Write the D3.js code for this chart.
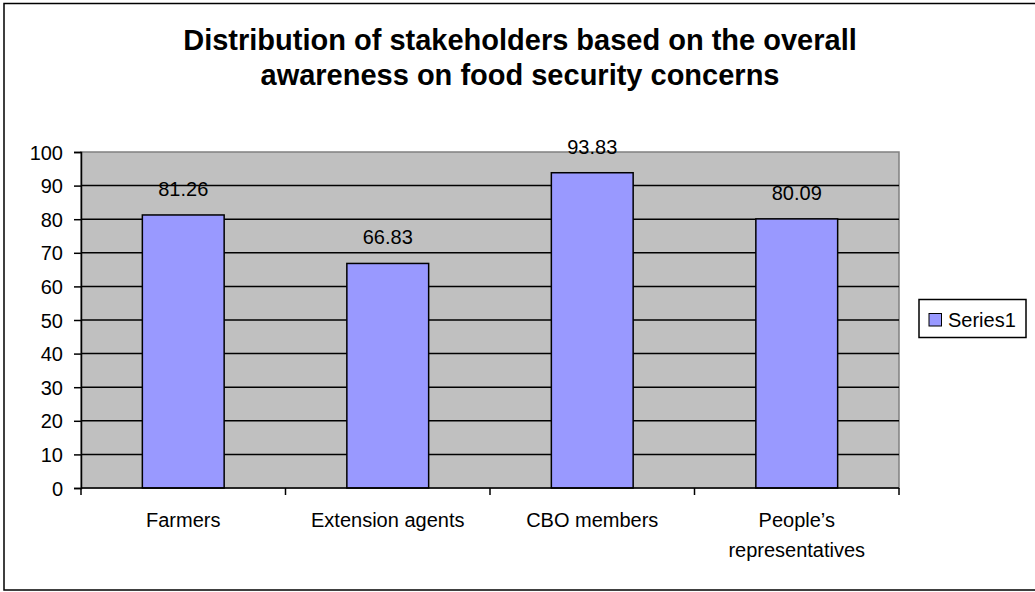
<!DOCTYPE html>
<html>
<head>
<meta charset="utf-8">
<script src="https://cdnjs.cloudflare.com/ajax/libs/d3/7.8.5/d3.min.js"></script>
<style>
  html, body { margin: 0; padding: 0; background: #fff; }
  svg { display: block; font-family: "Liberation Sans", Arial, sans-serif; }
</style>
</head>
<body>
<svg id="chart" width="1035" height="592"></svg>
<script>
// Chart data
const titleLines = [
  "Distribution of stakeholders based on the overall",
  "awareness on food security concerns"
];
const categories = ["Farmers", "Extension agents", "CBO members", "People\u2019s representatives"];
const categoryLines = [["Farmers"], ["Extension agents"], ["CBO members"], ["People\u2019s", "representatives"]];
const seriesName = "Series1";
const values = [81.26, 66.83, 93.83, 80.09];
const yTicks = [0, 10, 20, 30, 40, 50, 60, 70, 80, 90, 100];

const svg = d3.select("#chart");
const plot = { left: 81, right: 899, top: 152, bottom: 488 };
const barColor = "#9999FF";

// Outer chart frame (its right side runs just past the canvas edge)
svg.append("rect")
  .attr("x", 4).attr("y", 3.5)
  .attr("width", 1033).attr("height", 586.5)
  .attr("fill", "#fff").attr("stroke", "#000").attr("stroke-width", 1.5);

// Title
const title = svg.append("text")
  .attr("text-anchor", "middle")
  .attr("font-weight", "bold")
  .attr("font-size", 29)
  .attr("fill", "#000");
titleLines.forEach((t, i) => {
  title.append("tspan").attr("x", 520).attr("y", 50 + i * 35).text(t);
});

// Scales
const x = d3.scaleBand()
  .domain(categories)
  .range([plot.left, plot.right])
  .paddingInner(0.6)
  .paddingOuter(0.3);
const xBoundary = d3.scaleBand().domain(categories).range([plot.left, plot.right]).padding(0);
const y = d3.scaleLinear().domain([0, 100]).range([plot.bottom, plot.top]);

// Plot area background
svg.append("rect")
  .attr("x", plot.left).attr("y", plot.top)
  .attr("width", plot.right - plot.left).attr("height", plot.bottom - plot.top)
  .attr("fill", "#C0C0C0")
  .attr("stroke", "#808080").attr("stroke-width", 1.5);

// Horizontal gridlines
svg.append("g")
  .selectAll("line")
  .data(yTicks.filter(d => d > 0 && d < 100))
  .join("line")
  .attr("x1", plot.left).attr("x2", plot.right)
  .attr("y1", d => y(d)).attr("y2", d => y(d))
  .attr("stroke", "#000").attr("stroke-width", 1.5);

// Bars
svg.append("g")
  .selectAll("rect")
  .data(values)
  .join("rect")
  .attr("x", (d, i) => x(categories[i]))
  .attr("y", d => y(d))
  .attr("width", x.bandwidth())
  .attr("height", d => y(0) - y(d))
  .attr("fill", barColor)
  .attr("stroke", "#000").attr("stroke-width", 1.5);

// Value labels
svg.append("g")
  .selectAll("text")
  .data(values)
  .join("text")
  .attr("x", (d, i) => x(categories[i]) + x.bandwidth() / 2)
  .attr("y", d => y(d) - 19)
  .attr("text-anchor", "middle")
  .attr("font-size", 20)
  .attr("fill", "#000")
  .text(d => d.toFixed(2));

// Y axis
const yAxis = svg.append("g")
  .attr("transform", `translate(${plot.left},0)`)
  .call(d3.axisLeft(y).tickValues(yTicks).tickSize(7).tickPadding(11).tickFormat(d3.format("d")));
yAxis.select(".domain").attr("stroke", "#000").attr("stroke-width", 1.5);
yAxis.selectAll(".tick line").attr("stroke", "#000").attr("stroke-width", 1.5);
yAxis.selectAll(".tick text")
  .attr("font-size", 20).attr("font-family", "Liberation Sans, Arial, sans-serif")
  .attr("fill", "#000").attr("dy", "0.35em");

// X axis: baseline with ticks at category boundaries
const boundaries = categories.map(c => xBoundary(c)).concat([plot.right]);
svg.append("line")
  .attr("x1", plot.left).attr("x2", plot.right)
  .attr("y1", plot.bottom).attr("y2", plot.bottom)
  .attr("stroke", "#000").attr("stroke-width", 1.5);
svg.append("g")
  .selectAll("line")
  .data(boundaries)
  .join("line")
  .attr("x1", d => d).attr("x2", d => d)
  .attr("y1", plot.bottom).attr("y2", plot.bottom + 7)
  .attr("stroke", "#000").attr("stroke-width", 1.5);

// Category labels
const catLabels = svg.append("g")
  .selectAll("text")
  .data(categories)
  .join("text")
  .attr("text-anchor", "middle")
  .attr("font-size", 20)
  .attr("fill", "#000");
catLabels.each(function(c, i) {
  const cx = xBoundary(c) + xBoundary.bandwidth() / 2;
  categoryLines[i].forEach((line, j) => {
    d3.select(this).append("tspan")
      .attr("x", cx)
      .attr("y", 527 + j * 29.5)
      .text(line);
  });
});

// Legend
const legend = svg.append("g");
legend.append("rect")
  .attr("x", 919).attr("y", 299.5)
  .attr("width", 107).attr("height", 38)
  .attr("fill", "#fff").attr("stroke", "#000").attr("stroke-width", 1.5);
legend.append("rect")
  .attr("x", 929).attr("y", 313.5)
  .attr("width", 12.5).attr("height", 12.5)
  .attr("fill", barColor).attr("stroke", "#000").attr("stroke-width", 1);
legend.append("text")
  .attr("x", 948).attr("y", 326.5)
  .attr("font-size", 20).attr("fill", "#000")
  .text(seriesName);
</script>
</body>
</html>
